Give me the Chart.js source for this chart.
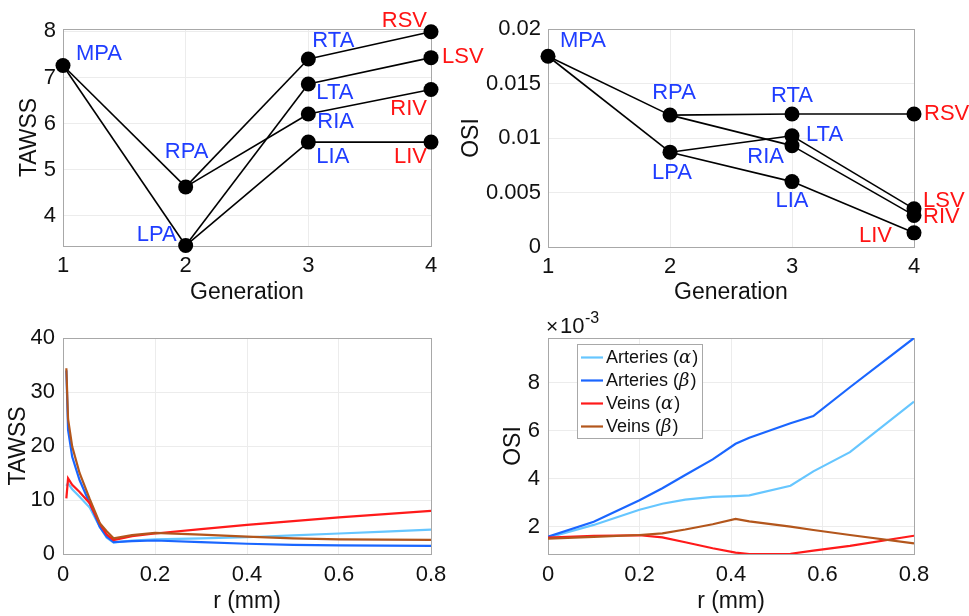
<!DOCTYPE html>
<html>
<head>
<meta charset="utf-8">
<script src="https://cdn.jsdelivr.net/npm/chart.js@4.4.1/dist/chart.umd.min.js"></script>
<style>
  body { margin: 0; background: #fff; }
  #wrap { position: relative; width: 969px; height: 616px; overflow: hidden; }
  canvas { position: absolute; }
</style>
</head>
<body>
<div id="wrap">
  <canvas id="tawss-gen" width="484" height="308" style="left:0;top:0"></canvas>
  <canvas id="osi-gen" width="514" height="308" style="left:455px;top:0"></canvas>
  <canvas id="tawss-r" width="484" height="308" style="left:0;top:308px"></canvas>
  <canvas id="osi-r" width="514" height="308" style="left:455px;top:308px"></canvas>
</div>
<script>
// vessel tree: name, generation, TAWSS, OSI
const vessels = ['MPA', 'RPA', 'LPA', 'RTA', 'LTA', 'RIA', 'LIA', 'RSV', 'LSV', 'RIV', 'LIV'];
const generation = [1, 2, 2, 3, 3, 3, 3, 4, 4, 4, 4];
const tawssByVessel = [7.26, 4.63, 3.36, 7.40, 6.86, 6.21, 5.60, 7.99, 7.43, 6.74, 5.60];
const osiByVessel = [0.0175, 0.0121, 0.0087, 0.0122, 0.0102, 0.0093, 0.0060, 0.0122, 0.0035, 0.0029, 0.0013];
const parentOf = [null, 'MPA', 'MPA', 'RPA', 'LPA', 'RPA', 'LPA', 'RTA', 'LTA', 'RIA', 'LIA'];
const veins = ['RSV', 'LSV', 'RIV', 'LIV'];

// TAWSS along the radius
const rTawss = [0.0073, 0.011, 0.02, 0.036, 0.058, 0.08, 0.095, 0.11, 0.15, 0.2, 0.3, 0.4, 0.5, 0.6, 0.7, 0.8];
const tawssArtA = [12.6, 13.1, 12.0, 10.6, 8.6, 5.0, 3.0, 2.1, 2.5, 2.7, 2.9, 3.1, 3.45, 3.8, 4.15, 4.5];
const tawssArtB = [34.0, 23.0, 18.0, 13.7, 9.4, 5.0, 3.2, 2.2, 2.4, 2.5, 2.2, 1.9, 1.7, 1.6, 1.55, 1.5];
const tawssVeinA = [10.3, 14.0, 12.8, 11.5, 9.4, 5.6, 3.6, 2.6, 3.3, 3.8, 4.6, 5.4, 6.1, 6.8, 7.4, 8.0];
const tawssVeinB = [34.4, 25.0, 19.9, 15.0, 10.2, 5.7, 4.2, 2.9, 3.5, 3.9, 3.6, 3.2, 2.9, 2.7, 2.65, 2.6];

// OSI along the radius (x 1e-3)
const rOsi = [0, 0.1, 0.2, 0.25, 0.3, 0.36, 0.41, 0.44, 0.53, 0.58, 0.66, 0.8];
const osiArtA = [1.54, 2.07, 2.70, 2.95, 3.12, 3.24, 3.27, 3.30, 3.70, 4.30, 5.10, 7.20];
const osiArtB = [1.58, 2.20, 3.10, 3.60, 4.15, 4.80, 5.45, 5.70, 6.30, 6.60, 7.80, 9.85];
const osiVeinA = [1.54, 1.62, 1.64, 1.55, 1.35, 1.10, 0.92, 0.86, 0.87, 1.00, 1.20, 1.62];
const osiVeinB = [1.50, 1.57, 1.65, 1.72, 1.88, 2.10, 2.32, 2.22, 2.00, 1.86, 1.65, 1.30];

const seriesNames = ['Arteries', 'Arteries', 'Veins', 'Veins'];
const seriesGreek = ['\u03b1', '\u03b2', '\u03b1', '\u03b2'];
const seriesColors = ['#66c6ff', '#1a66ff', '#ff1a1a', '#b3561c'];

const FONT = '"Liberation Sans", Arial, Helvetica, sans-serif';
const BLUE_TXT = '#1f3dff';
const RED_TXT = '#ff1414';

// label placement around each node: dx, dy, align
const tawssLabelPos = {
  MPA: [13, -12, 'left'], RPA: [1, -35, 'center'], LPA: [-9, -11, 'right'],
  RTA: [4, -18, 'left'], LTA: [8, 9, 'left'], RIA: [9, 8, 'left'], LIA: [8, 15, 'left'],
  RSV: [-4, -11, 'right'], LSV: [11, -1, 'left'], RIV: [-4, 19, 'right'], LIV: [-4, 15, 'right']
};
const osiLabelPos = {
  MPA: [12, -15, 'left'], RPA: [4, -22, 'center'], LPA: [2, 21, 'center'],
  RTA: [0, -18, 'center'], LTA: [14, -1, 'left'], RIA: [-8, 11, 'right'], LIA: [0, 19, 'center'],
  RSV: [10, 0, 'left'], LSV: [9, -8, 'left'], RIV: [9, 2, 'left'], LIV: [-22, 3, 'right']
};

// grey frame around the plot area
const boxPlugin = {
  id: 'box',
  beforeDatasetsDraw(chart) {
    const a = chart.chartArea, ctx = chart.ctx;
    ctx.save();
    ctx.strokeStyle = '#a8a8a8';
    ctx.lineWidth = 1;
    ctx.strokeRect(Math.round(a.left) + 0.5, Math.round(a.top) + 0.5, Math.round(a.width), Math.round(a.height));
    ctx.restore();
  }
};

function fixedScale(w, h) {
  return s => { if (w != null) s.width = w; if (h != null) s.height = h; };
}

function tickList(values) {
  return s => { s.ticks = values.map(v => ({ value: v })); };
}

function fmt(v) { return String(+v.toFixed(4)); }

function gridOpts() {
  return { color: '#ececec', drawTicks: false, lineWidth: 1 };
}

function treeChart(id, values, labelPos, yOpts, area) {
  const datasets = [];
  vessels.forEach((name, i) => {
    const p = parentOf[i];
    if (!p) return;
    const j = vessels.indexOf(p);
    datasets.push({
      data: [{ x: generation[j], y: values[j] }, { x: generation[i], y: values[i] }],
      borderColor: '#000', borderWidth: 1.6, pointRadius: 0, showLine: true, clip: false
    });
  });
  datasets.push({
    data: vessels.map((n, i) => ({ x: generation[i], y: values[i] })),
    showLine: false, pointRadius: 7.5, pointBackgroundColor: '#000', pointBorderWidth: 0, clip: false
  });

  const labelPlugin = {
    id: 'vesselLabels',
    afterDatasetsDraw(chart) {
      const ctx = chart.ctx, xs = chart.scales.x, ys = chart.scales.y;
      ctx.save();
      ctx.font = '22px ' + FONT;
      ctx.textBaseline = 'middle';
      vessels.forEach((n, i) => {
        const [dx, dy, al] = labelPos[n];
        ctx.fillStyle = veins.includes(n) ? RED_TXT : BLUE_TXT;
        ctx.textAlign = al;
        ctx.fillText(n, xs.getPixelForValue(generation[i]) + dx, ys.getPixelForValue(values[i]) + dy);
      });
      ctx.restore();
    }
  };

  return new Chart(document.getElementById(id), {
    type: 'line',
    data: { datasets },
    options: {
      responsive: false, animation: false,
      layout: { padding: { top: area.top, right: area.right, left: 0, bottom: 0 } },
      plugins: { legend: { display: false }, tooltip: { enabled: false } },
      scales: {
        x: {
          type: 'linear', min: 1, max: 4,
          afterBuildTicks: tickList([1, 2, 3, 4]),
          afterFit: fixedScale(null, area.xh),
          grid: gridOpts(), border: { display: false },
          ticks: { color: '#111', font: { size: 22, family: FONT }, padding: 7, maxRotation: 0 },
          title: { display: true, text: 'Generation', color: '#111', font: { size: 23, family: FONT }, padding: { top: 0, bottom: 2 } }
        },
        y: Object.assign({
          type: 'linear',
          afterFit: fixedScale(area.yw, null),
          grid: gridOpts(), border: { display: false },
          ticks: { color: '#111', font: { size: 22, family: FONT }, padding: 7, callback: fmt }
        }, yOpts)
      }
    },
    plugins: [boxPlugin, labelPlugin]
  });
}

treeChart('tawss-gen', tawssByVessel, tawssLabelPos, {
  min: 3.35, max: 8.05,
  afterBuildTicks: tickList([4, 5, 6, 7, 8]),
  title: { display: true, text: 'TAWSS', color: '#111', font: { size: 23, family: FONT }, padding: { top: 16, bottom: 0 } }
}, { top: 29, right: 53, xh: 62, yw: 63 });

treeChart('osi-gen', osiByVessel, osiLabelPos, {
  min: 0, max: 0.02,
  afterBuildTicks: tickList([0, 0.005, 0.01, 0.015, 0.02]),
  title: { display: true, text: 'OSI', color: '#111', font: { size: 23, family: FONT }, padding: { top: 3, bottom: 0 } }
}, { top: 29, right: 55, xh: 61, yw: 93 });

function radialChart(id, r, series, yOpts, area, extra) {
  // later series are drawn over earlier ones
  const datasets = series.map((vals, k) => ({
    data: r.map((x, i) => ({ x, y: vals[i] })),
    borderColor: seriesColors[k], borderWidth: 2.2, pointRadius: 0, tension: 0,
    order: series.length - k
  }));

  return new Chart(document.getElementById(id), {
    type: 'line',
    data: { datasets },
    options: {
      responsive: false, animation: false,
      layout: { padding: { top: area.top, right: area.right, left: 0, bottom: 0 } },
      plugins: { legend: { display: false }, tooltip: { enabled: false } },
      scales: {
        x: {
          type: 'linear', min: 0, max: 0.8,
          afterBuildTicks: tickList([0, 0.2, 0.4, 0.6, 0.8]),
          afterFit: fixedScale(null, area.xh),
          grid: gridOpts(), border: { display: false },
          ticks: { color: '#111', font: { size: 22, family: FONT }, padding: 8, maxRotation: 0, callback: fmt },
          title: { display: true, text: 'r (mm)', color: '#111', font: { size: 23, family: FONT }, padding: { top: 0, bottom: 1 } }
        },
        y: Object.assign({
          type: 'linear',
          afterFit: fixedScale(area.yw, null),
          grid: gridOpts(), border: { display: false },
          ticks: { color: '#111', font: { size: 22, family: FONT }, padding: 8, callback: fmt }
        }, yOpts)
      }
    },
    plugins: [boxPlugin].concat(extra || [])
  });
}

radialChart('tawss-r', rTawss, [tawssArtA, tawssArtB, tawssVeinA, tawssVeinB], {
  min: 0, max: 40,
  afterBuildTicks: tickList([0, 10, 20, 30, 40]),
  title: { display: true, text: 'TAWSS', color: '#111', font: { size: 23, family: FONT }, padding: { top: 5, bottom: 0 } }
}, { top: 30, right: 53, xh: 62, yw: 63 });

// exponent above the axis and the legend box
const osiExtras = {
  id: 'osiExtras',
  afterDraw(chart) {
    const ctx = chart.ctx, a = chart.chartArea;
    ctx.save();
    ctx.fillStyle = '#111';
    ctx.textBaseline = 'alphabetic';
    ctx.textAlign = 'left';
    ctx.font = '21px ' + FONT;
    ctx.fillText('\u00d7', a.left - 2, a.top - 5);
    ctx.font = '22px ' + FONT;
    ctx.fillText('10', a.left + 12, a.top - 5);
    ctx.font = '16px ' + FONT;
    ctx.fillText('-3', a.left + 37, a.top - 15);

    // legend
    const lx = a.left + 29, ly = a.top + 6, lw = 125, lh = 94;
    ctx.fillStyle = '#fff';
    ctx.fillRect(lx, ly, lw, lh);
    ctx.strokeStyle = '#a8a8a8';
    ctx.lineWidth = 1;
    ctx.strokeRect(Math.round(lx) + 0.5, Math.round(ly) + 0.5, lw, lh);
    seriesNames.forEach((name, k) => {
      const y = ly + 13.5 + k * 23;
      ctx.strokeStyle = seriesColors[k];
      ctx.lineWidth = 2.2;
      ctx.beginPath();
      ctx.moveTo(lx + 4, y);
      ctx.lineTo(lx + 26, y);
      ctx.stroke();
      ctx.fillStyle = '#111';
      ctx.textBaseline = 'middle';
      let x = lx + 29;
      ctx.font = '18px ' + FONT;
      const head = name + ' (';
      ctx.fillText(head, x, y + 1);
      x += ctx.measureText(head).width;
      ctx.font = 'italic 18px "DejaVu Serif", "Liberation Serif", serif';
      ctx.fillText(seriesGreek[k], x, y + 1);
      x += ctx.measureText(seriesGreek[k]).width + 1;
      ctx.font = '18px ' + FONT;
      ctx.fillText(')', x, y + 1);
    });
    ctx.restore();
  }
};

radialChart('osi-r', rOsi, [osiArtA, osiArtB, osiVeinA, osiVeinB], {
  min: 0.86, max: 9.85,
  afterBuildTicks: tickList([2, 4, 6, 8]),
  title: { display: true, text: 'OSI', color: '#111', font: { size: 23, family: FONT }, padding: { top: 45, bottom: 0 } }
}, { top: 30, right: 55, xh: 62, yw: 93 }, [osiExtras]);
</script>
</body>
</html>
